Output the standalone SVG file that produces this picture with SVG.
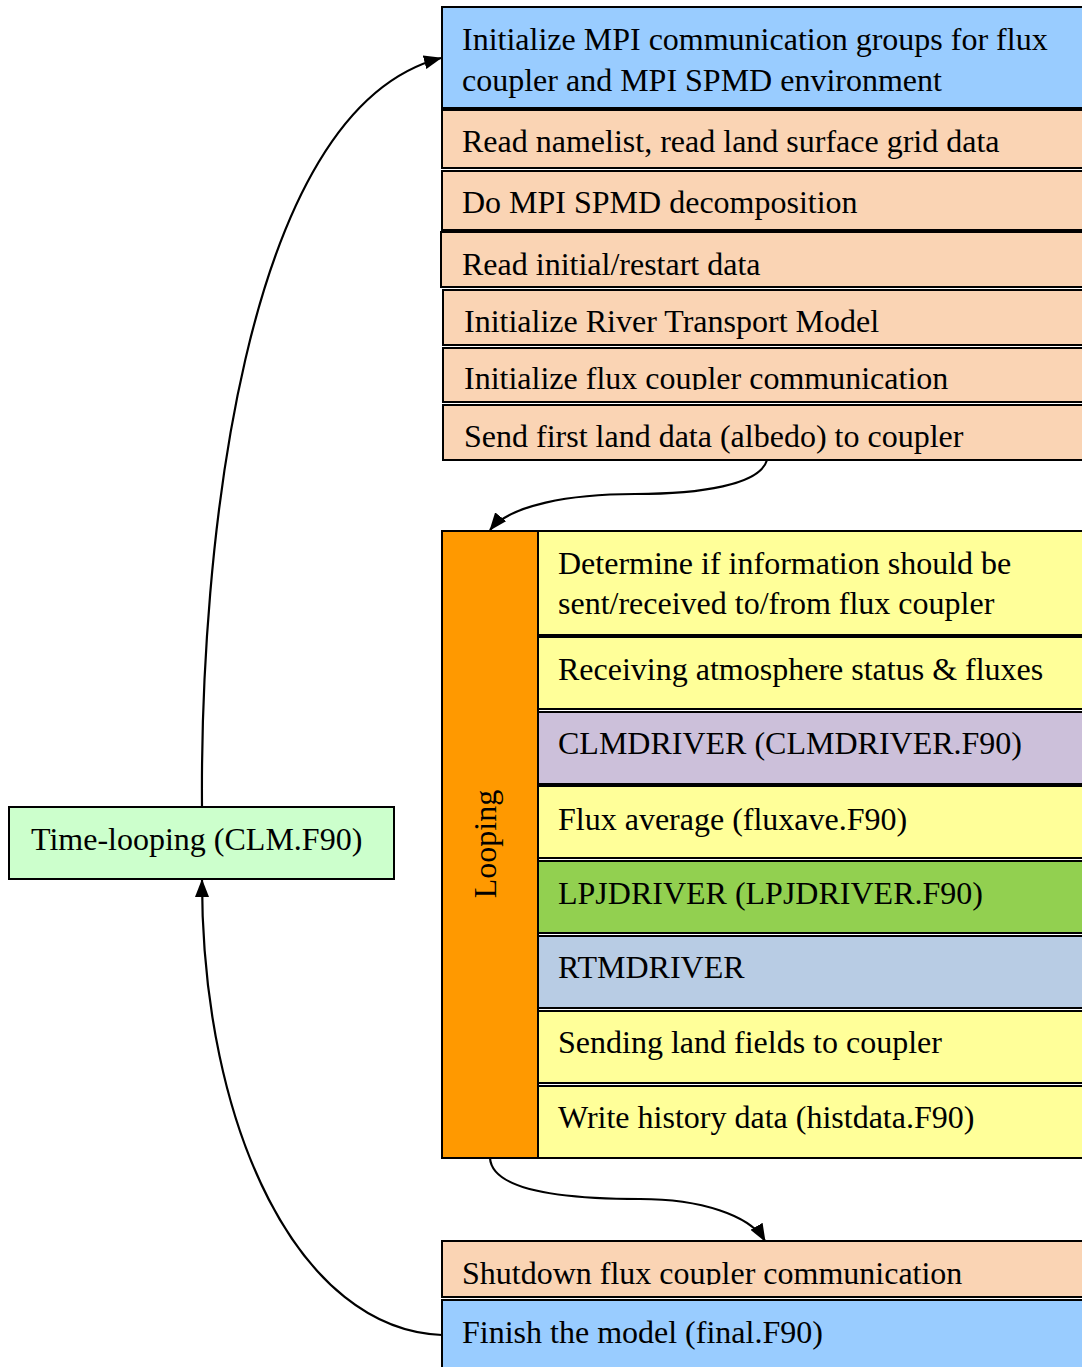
<svg xmlns="http://www.w3.org/2000/svg" width="1082" height="1367" viewBox="0 0 1082 1367">
<style>
text{font-family:"Liberation Serif","Times New Roman",serif;font-size:32px;fill:#000}
.b{stroke:#000;stroke-width:2}
.blue{fill:#99ccff}.peach{fill:#fad4b4}.yel{fill:#ffff99}.pur{fill:#ccc0da}.grn{fill:#92d050}.bg{fill:#b8cce4}.org{fill:#ff9900}.lg{fill:#ccffcc}
.c{fill:none;stroke:#000;stroke-width:2.2}
</style>
<defs>
<marker id="ah" viewBox="0 0 18 14" refX="17" refY="7" markerWidth="18" markerHeight="14" markerUnits="userSpaceOnUse" orient="auto">
<path d="M0,0 L18,7 L0,14 z" fill="#000"/>
</marker>
<clipPath id="cp6"><rect x="440" y="348" width="650" height="42"/></clipPath>
<clipPath id="cps"><rect x="440" y="1241" width="650" height="44"/></clipPath>
</defs>
<rect width="1082" height="1367" fill="#fff"/>
<g id="n1"><rect class="b blue" x="442" y="7" width="650" height="101"/><text x="462" y="50">Initialize MPI communication groups for flux</text><text x="462" y="91">coupler and MPI SPMD environment</text></g>
<g id="n2"><rect class="b peach" x="442" y="110" width="650" height="58"/><text x="462" y="152">Read namelist, read land surface grid data</text></g>
<g id="n3"><rect class="b peach" x="442" y="171" width="650" height="59"/><text x="462" y="213">Do MPI SPMD decomposition</text></g>
<g id="n4"><rect class="b peach" x="441" y="232" width="650" height="55"/><text x="462" y="275">Read initial/restart data</text></g>
<g id="n5"><rect class="b peach" x="443" y="290" width="650" height="55"/><text x="464" y="332">Initialize River Transport Model</text></g>
<g id="n6"><rect class="b peach" x="443" y="348" width="650" height="54"/><text x="464" y="389" clip-path="url(#cp6)">Initialize flux coupler communication</text></g>
<g id="n7"><rect class="b peach" x="443" y="405" width="650" height="55"/><text x="464" y="447">Send first land data (albedo) to coupler</text></g>
<g id="looping"><rect class="b org" x="442" y="531" width="96" height="627"/><text transform="translate(496,844) rotate(-90)" text-anchor="middle">Looping</text></g>
<g id="l1"><rect class="b yel" x="538" y="531" width="550" height="104"/><text x="558" y="574">Determine if information should be</text><text x="558" y="614">sent/received to/from flux coupler</text></g>
<g id="l2"><rect class="b yel" x="538" y="637" width="550" height="72"/><text x="558" y="680">Receiving atmosphere status &amp; fluxes</text></g>
<g id="l3"><rect class="b pur" x="538" y="712" width="550" height="72"/><text x="558" y="754">CLMDRIVER (CLMDRIVER.F90)</text></g>
<g id="l4"><rect class="b yel" x="538" y="786" width="550" height="72"/><text x="558" y="830">Flux average (fluxave.F90)</text></g>
<g id="l5"><rect class="b grn" x="538" y="861" width="550" height="72"/><text x="558" y="904">LPJDRIVER (LPJDRIVER.F90)</text></g>
<g id="l6"><rect class="b bg" x="538" y="936" width="550" height="72"/><text x="558" y="978">RTMDRIVER</text></g>
<g id="l7"><rect class="b yel" x="538" y="1011" width="550" height="72"/><text x="558" y="1053">Sending land fields to coupler</text></g>
<g id="l8"><rect class="b yel" x="538" y="1086" width="550" height="72"/><text x="558" y="1128">Write history data (histdata.F90)</text></g>
<g id="shut"><rect class="b peach" x="442" y="1241" width="650" height="56"/><text x="462" y="1284" clip-path="url(#cps)">Shutdown flux coupler communication</text></g>
<g id="fin"><rect class="b blue" x="442" y="1300" width="650" height="80"/><text x="462" y="1343">Finish the model (final.F90)</text></g>
<g id="tl"><rect class="b lg" x="9" y="807" width="385" height="72"/><text x="31" y="850">Time-looping (CLM.F90)</text></g>
<g id="connectors">
<path class="c" marker-end="url(#ah)" d="M202,807 C200,560 240,110 441,58"/>
<path class="c" marker-end="url(#ah)" d="M442,1335 C300,1330 202,1130 202,880"/>
<path class="c" marker-end="url(#ah)" d="M767,460 C760,485 700,494 635,494 C570,494 510,505 490,530"/>
<path class="c" marker-end="url(#ah)" d="M490,1158 C492,1190 560,1199 640,1199 C700,1199 750,1215 765,1241"/>
</g>
</svg>
